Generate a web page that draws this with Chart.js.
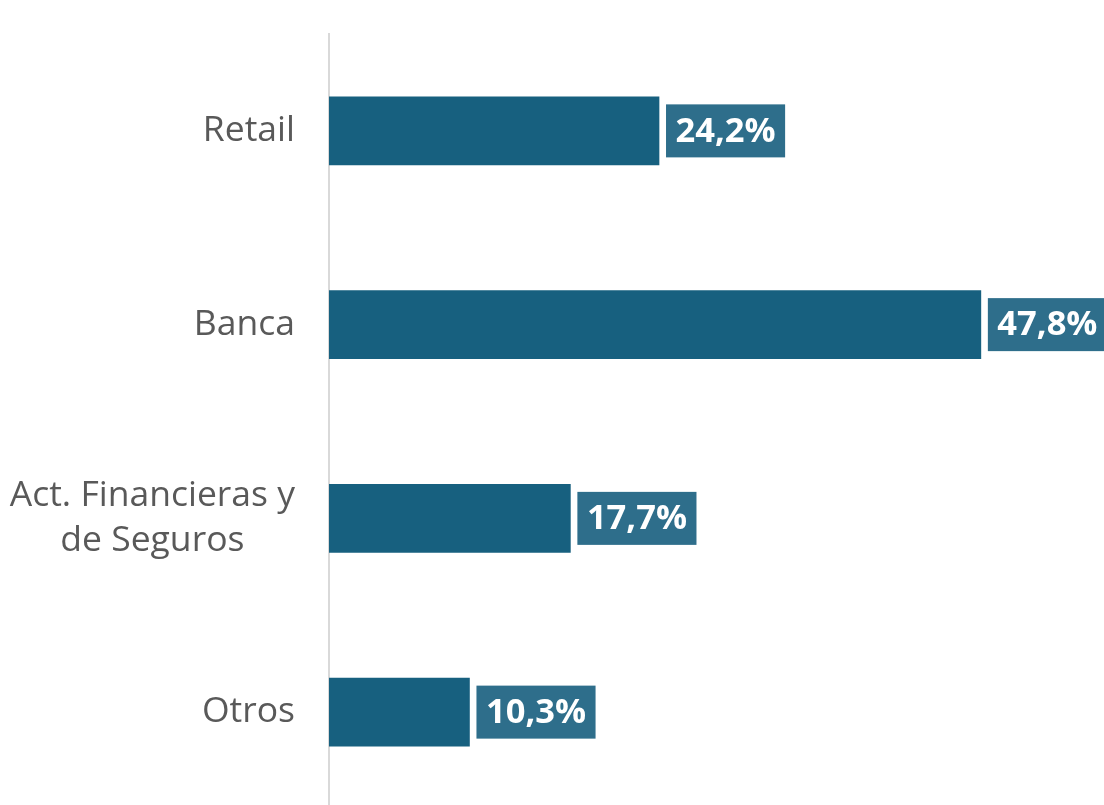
<!DOCTYPE html>
<html><head><meta charset="utf-8">
<script src="https://cdn.jsdelivr.net/npm/chart.js@4"></script>
<style>html,body{margin:0;padding:0;overflow:hidden;background:#fff}#wrap{width:1104px;height:809px;position:relative}</style>
</head><body><div id="wrap"><canvas id="c"></canvas></div>
<script>
const categories = [["Retail"], ["Banca"], ["Act. Financieras y", "de Seguros"], ["Otros"]];
const values = [24.2, 47.8, 17.7, 10.3];
const valueLabels = ["24,2%", "47,8%", "17,7%", "10,3%"];

const labelFont = '35.5px "Open Sans"';
const valueFont = 'bold 34.5px "Open Sans"';

const customLabels = {
  id: 'customLabels',
  afterDatasetsDraw(chart) {
    const ctx = chart.ctx;
    const meta = chart.getDatasetMeta(0);
    const yScale = chart.scales.y;
    ctx.save();
    ctx.font = labelFont;
    ctx.fillStyle = '#595959';
    ctx.textBaseline = 'middle';
    categories.forEach((lines, i) => {
      const cy = yScale.getPixelForValue(i);
      const lh = 45;
      const widths = lines.map(l => ctx.measureText(l).width);
      const maxW = Math.max(...widths);
      const right = 295;
      lines.forEach((l, j) => {
        const y = cy + (j - (lines.length - 1) / 2) * lh;
        ctx.textAlign = 'center';
        ctx.fillText(l, right - maxW / 2, y);
      });
    });
    ctx.font = valueFont;
    meta.data.forEach((bar, i) => {
      const t = valueLabels[i];
      const tw = ctx.measureText(t).width;
      const bw = tw + 19;
      const bh = 53;
      const x0 = bar.x + 7;
      const cy = bar.y;
      ctx.fillStyle = '#2e6e8b';
      ctx.fillRect(x0, cy - bh / 2, bw, bh);
      ctx.fillStyle = '#ffffff';
      ctx.textAlign = 'center';
      ctx.textBaseline = 'middle';
      ctx.fillText(t, x0 + bw / 2, cy + 1);
    });
    ctx.restore();
  }
};

new Chart(document.getElementById('c'), {
  type: 'bar',
  data: {
    labels: categories.map(c => c.join(' ')),
    datasets: [{
      data: values,
      backgroundColor: '#17607f',
      borderWidth: 0,
      barThickness: 68
    }]
  },
  options: {
    indexAxis: 'y',
    responsive: true,
    maintainAspectRatio: false,
    animation: false,
    layout: { padding: { top: 34, bottom: 0, left: 0, right: 0 } },
    plugins: { legend: { display: false }, tooltip: { enabled: false } },
    scales: {
      x: { display: false, min: 0, max: 56.83 },
      y: {
        grid: { display: false, drawTicks: false },
        border: { display: true, color: '#d9d9d9', width: 2 },
        ticks: { display: false },
        afterFit(scale) { scale.width = 329; }
      }
    }
  },
  plugins: [customLabels]
});
</script></body></html>
